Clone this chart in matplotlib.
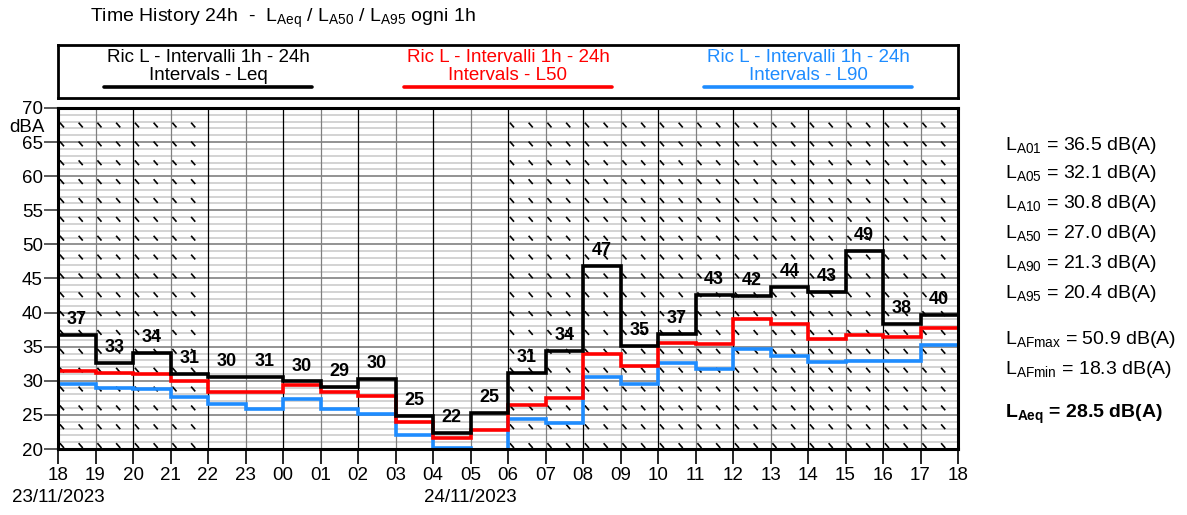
import numpy as np
import matplotlib.pyplot as plt
from matplotlib.collections import LineCollection
from matplotlib import transforms

plt.rcParams['font.family'] = ['Liberation Sans', 'DejaVu Sans']
plt.rcParams['mathtext.fontset'] = 'custom'
plt.rcParams['mathtext.rm'] = 'Liberation Sans'
plt.rcParams['mathtext.it'] = 'Liberation Sans'
plt.rcParams['mathtext.bf'] = 'Liberation Sans:bold'
plt.rcParams['mathtext.default'] = 'regular'

# hourly data, 18:00 on 23/11/2023 to 18:00 on 24/11/2023
hours = ['18', '19', '20', '21', '22', '23', '00', '01', '02', '03', '04', '05',
         '06', '07', '08', '09', '10', '11', '12', '13', '14', '15', '16', '17', '18']
leq = [36.7, 32.6, 34.1, 31.0, 30.5, 30.6, 29.9, 29.1, 30.2, 24.8, 22.4, 25.3,
       31.1, 34.4, 46.8, 35.1, 36.8, 42.6, 42.4, 43.8, 43.0, 49.0, 38.3, 39.6]
l50 = [31.5, 31.1, 31.0, 29.9, 28.4, 28.4, 29.4, 28.3, 27.8, 23.9, 21.6, 22.8,
       26.5, 27.5, 33.9, 32.2, 35.5, 35.4, 39.1, 38.4, 36.1, 36.7, 36.4, 37.7]
l90 = [29.5, 28.9, 28.8, 27.6, 26.6, 25.8, 27.3, 25.9, 25.1, 22.0, 20.2, 19.0,
       24.4, 23.8, 30.5, 29.5, 32.6, 31.7, 34.7, 33.7, 32.8, 32.9, 32.9, 35.2]
leq_labels = ['37', '33', '34', '31', '30', '31', '30', '29', '30', '25', '22', '25',
              '31', '34', '47', '35', '37', '43', '42', '44', '43', '49', '38', '40']
day_spans = [(0, 4), (12, 24)]   # 18-22 and 06-18 (day period)
dates = ['23/11/2023', '24/11/2023']
date_pos = [0, 11]

stats = [r'$L_{A01}$ = 36.5 dB(A)', r'$L_{A05}$ = 32.1 dB(A)', r'$L_{A10}$ = 30.8 dB(A)',
         r'$L_{A50}$ = 27.0 dB(A)', r'$L_{A90}$ = 21.3 dB(A)', r'$L_{A95}$ = 20.4 dB(A)',
         r'$L_{AFmax}$ = 50.9 dB(A)', r'$L_{AFmin}$ = 18.3 dB(A)']
stats_y = [145, 174, 204, 234, 264, 294, 339, 369]

series = [('Intervals - Leq', leq, 'black'),
          ('Intervals - L50', l50, '#ff0000'),
          ('Intervals - L90', l90, '#1e8cff')]

FS = 13.5
W, H = 1187, 515
fig = plt.figure(figsize=(W / 100, H / 100), dpi=100)
ax = fig.add_axes([58 / W, 1 - 449 / H, 900 / W, 341 / H])
ax.set_xlim(0, 24)
ax.set_ylim(20, 70)

# grid
for v in range(21, 70):
    if v % 5:
        ax.axhline(v, color='#cccccc', lw=1.2, zorder=1)
for v in range(25, 70, 5):
    ax.axhline(v, color='#808080', lw=1.2, zorder=1.5)
for i in range(1, 24):
    ax.axvline(i, color='black' if i % 2 == 0 else '#808080', lw=0.9, zorder=1.5)

# hatching for the day period
segs = []
for a, b in day_spans:
    for x in np.arange(a, b, 0.5) + 0.05:
        for y in np.linspace(67.5, 20.5, 18):
            segs.append([(x, y + 0.35), (x + 0.11, y - 0.35)])
ax.add_collection(LineCollection(segs, colors='black', lw=1.2, zorder=2))

# step lines
x = np.arange(25)
for name, vals, col in series[::-1]:
    ax.step(x, vals + [vals[-1]], where='post', color=col, lw=2.6, zorder=3,
            solid_joinstyle='miter')

for i, (v, lab) in enumerate(zip(leq, leq_labels)):
    ax.annotate(lab, (i + 0.5, v), xytext=(0, 5), textcoords='offset points',
                ha='center', va='bottom', fontsize=13, fontweight='bold', zorder=4)

for s in ax.spines.values():
    s.set_linewidth(2.2)
    s.set_zorder(5)

ax.set_yticks(range(20, 71, 5))
ax.set_xticks(range(25))
ax.set_xticklabels(hours)
ax.tick_params(axis='y', length=10, width=1.2, color='#404040', labelsize=FS, pad=1)
ax.tick_params(axis='x', length=11, width=1.2, labelsize=FS, pad=2)
for i, t in enumerate(ax.xaxis.get_major_ticks()):
    t.tick1line.set_color('black' if i % 2 == 0 else '#808080')

ax.text(-0.015, 67.2, 'dBA', transform=transforms.blended_transform_factory(ax.transAxes, ax.transData),
        ha='right', va='center', fontsize=FS)
for d, p in zip(dates, date_pos):
    ax.text(p, 12.9, d, ha='center', va='center', fontsize=FS, clip_on=False)

# title
fig.text(90 / W, 1 - 18 / H,
         r'Time History 24h  -  $L_{Aeq}$ / $L_{A50}$ / $L_{A95}$ ogni 1h',
         ha='left', va='center', fontsize=14)

# legend box
lax = fig.add_axes([58 / W, 1 - 98 / H, 900 / W, 53 / H])
lax.set_xlim(0, 900)
lax.set_ylim(53, 0)
lax.set_xticks([])
lax.set_yticks([])
for s in lax.spines.values():
    s.set_linewidth(2)
for k, (name, vals, col) in enumerate(series):
    cx = 150 + 300 * k
    lax.text(cx, 12, 'Ric L - Intervalli 1h - 24h', color=col, ha='center', va='center', fontsize=FS)
    lax.text(cx, 31, name, color=col, ha='center', va='center', fontsize=FS)
    lax.plot([cx - 104, cx + 104], [42, 42], color=col, lw=2.6, solid_capstyle='round')

# statistics
for s, y in zip(stats, stats_y):
    fig.text(1005 / W, 1 - y / H, s, ha='left', va='center', fontsize=14)
fig.text(1005 / W, 1 - 414 / H, r'$\mathbf{L_{Aeq}}$ = 28.5 dB(A)', ha='left', va='center',
         fontsize=14, fontweight='bold')

fig.savefig('out.png', dpi=100)
